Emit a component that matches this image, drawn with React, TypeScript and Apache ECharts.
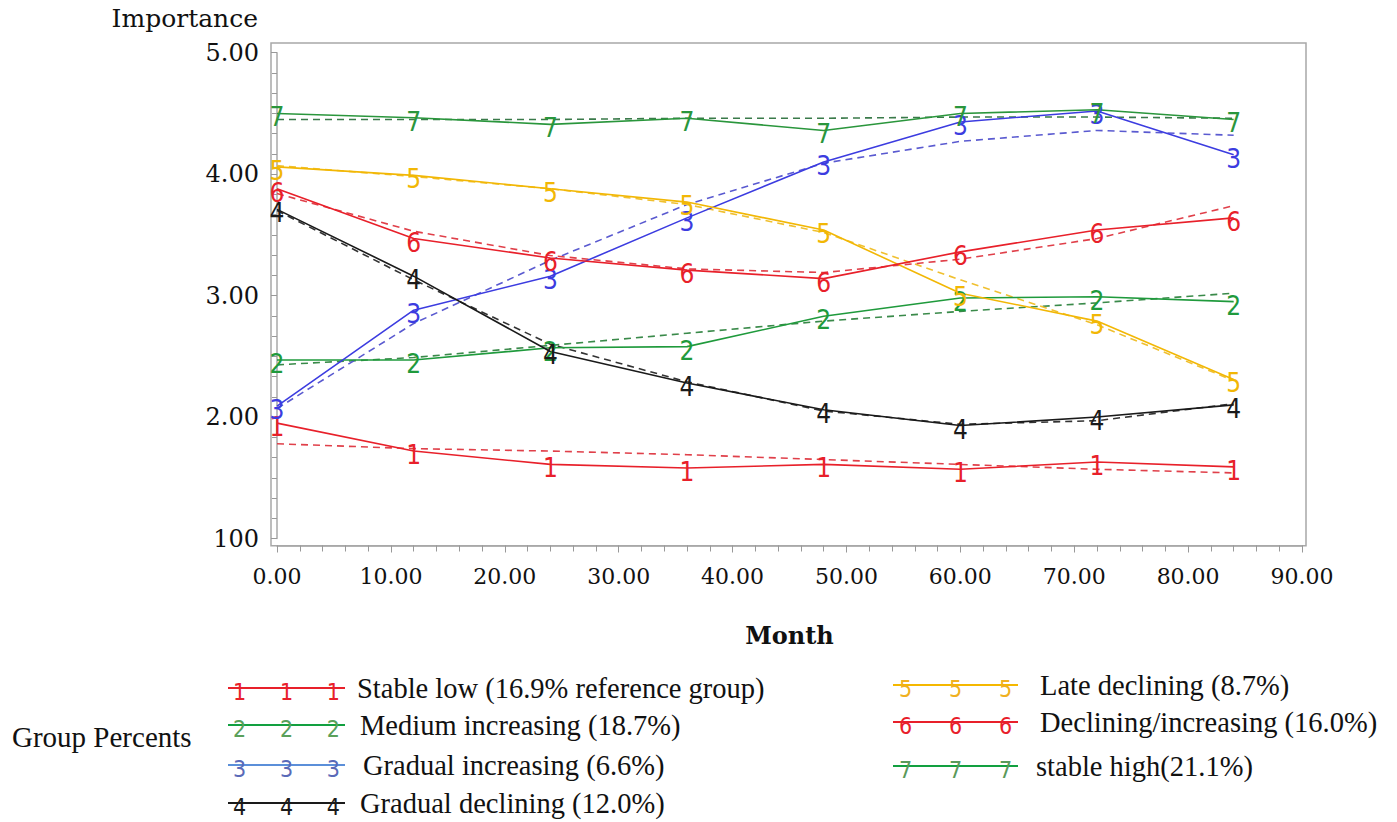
import React, { useEffect, useRef } from "react";
import * as echarts from "echarts";

// ---------- data ----------
const months = [0, 12, 24, 36, 48, 60, 72, 84];

const groupDigits = ["1", "2", "3", "4", "5", "6", "7"];
const groupNames = [
  "Stable low (16.9% reference group)",
  "Medium increasing (18.7%)",
  "Gradual increasing (6.6%)",
  "Gradual declining (12.0%)",
  "Late declining (8.7%)",
  "Declining/increasing (16.0%)",
  "stable high(21.1%)",
];

const obs1 = [1.95, 1.72, 1.61, 1.58, 1.61, 1.57, 1.63, 1.59];
const fit1 = [1.78, 1.74, 1.72, 1.69, 1.65, 1.61, 1.57, 1.54];
const obs2 = [2.47, 2.47, 2.57, 2.58, 2.83, 2.98, 2.99, 2.95];
const fit2 = [2.43, 2.49, 2.59, 2.69, 2.79, 2.87, 2.94, 3.02];
const obs3 = [2.09, 2.88, 3.16, 3.64, 4.1, 4.43, 4.52, 4.16];
const fit3 = [2.07, 2.77, 3.29, 3.75, 4.09, 4.27, 4.36, 4.32];
const obs4 = [3.71, 3.16, 2.54, 2.28, 2.06, 1.93, 2.0, 2.1];
const fit4 = [3.7, 3.13, 2.6, 2.29, 2.05, 1.94, 1.97, 2.11];
const obs5 = [4.06, 3.99, 3.88, 3.77, 3.54, 3.02, 2.79, 2.31];
const fit5 = [4.07, 3.98, 3.88, 3.75, 3.52, 3.13, 2.76, 2.3];
const obs6 = [3.88, 3.47, 3.31, 3.21, 3.14, 3.36, 3.54, 3.64];
const fit6 = [3.84, 3.53, 3.33, 3.22, 3.19, 3.3, 3.47, 3.74];
const obs7 = [4.5, 4.465, 4.41, 4.46, 4.36, 4.5, 4.53, 4.45];
const fit7 = [4.45, 4.45, 4.45, 4.46, 4.46, 4.47, 4.47, 4.46];

const observed = [obs1, obs2, obs3, obs4, obs5, obs6, obs7];
const fitted = [fit1, fit2, fit3, fit4, fit5, fit6, fit7];

const yTickLabels: Record<number, string> = { 1: "100", 2: "2.00", 3: "3.00", 4: "4.00", 5: "5.00" };

// ---------- styles ----------
const lineColors = ["#e8202a", "#1f9a3c", "#3c3ce0", "#1a1a1a", "#f2b705", "#e8202a", "#2a963c"];
const dashColors = ["#e0404a", "#3a8a4a", "#5a5ad0", "#333333", "#f0c030", "#e0404a", "#3a7a4a"];
const legendLineColors = ["#e8202a", "#12a040", "#5b8fd9", "#1a1a1a", "#f5b800", "#e8202a", "#12a040"];
const legendDigitColors = ["#e8202a", "#5aa05a", "#5a6ab8", "#1a1a1a", "#f0b020", "#e8202a", "#5a9a5a"];

const serif = "'DejaVu Serif', serif";
const legendFont = "'Liberation Serif', serif";
const digitFont = "'Liberation Sans Narrow', 'DejaVu Sans Condensed', 'Liberation Sans', sans-serif";

const legendSlots = [
  { x1: 228, x2: 345, tx: 357, y: 688 },
  { x1: 228, x2: 345, tx: 360, y: 725 },
  { x1: 228, x2: 345, tx: 363, y: 765 },
  { x1: 228, x2: 345, tx: 360, y: 803 },
  { x1: 893, x2: 1018, tx: 1040, y: 685 },
  { x1: 893, x2: 1018, tx: 1040, y: 722 },
  { x1: 893, x2: 1018, tx: 1036, y: 766 },
];

export default function App() {
  const ref = useRef<HTMLDivElement>(null);

  useEffect(() => {
    if (!ref.current) return;
    const chart = echarts.init(ref.current, null, { renderer: "svg" });

    const series: any[] = [];
    for (let i = 0; i < 7; i++) {
      series.push({
        type: "line",
        name: groupNames[i] + " fit",
        data: months.map((m, j) => [m, fitted[i][j]]),
        symbol: "none",
        lineStyle: { color: dashColors[i], width: 1.6, type: [7, 5] },
        z: 2,
        silent: true,
      });
    }
    for (let i = 0; i < 7; i++) {
      series.push({
        type: "line",
        name: groupNames[i],
        data: months.map((m, j) => [m, observed[i][j]]),
        symbol: "circle",
        symbolSize: 2,
        showAllSymbol: true,
        itemStyle: { color: "rgba(0,0,0,0)" },
        lineStyle: { color: lineColors[i], width: 1.6 },
        label: {
          show: true,
          position: "inside",
          formatter: () => groupDigits[i],
          color: lineColors[i],
          fontSize: 26,
          fontFamily: digitFont,
          offset: [0, 4],
        },
        z: 3,
        silent: true,
      });
    }

    const graphics: any[] = [
      {
        type: "rect",
        shape: { x: 271, y: 43, width: 1306 - 271, height: 545.7 - 43 },
        style: { fill: "none", stroke: "#a8a8a8", lineWidth: 1.5 },
        z: 0,
        silent: true,
      },
      {
        type: "text",
        x: 258,
        y: 18,
        style: {
          text: "Importance",
          font: `25px ${serif}`,
          fill: "#111",
          textAlign: "right",
          textVerticalAlign: "middle",
        },
      },
      {
        type: "text",
        x: 12,
        y: 737,
        style: {
          text: "Group Percents",
          font: `29px ${legendFont}`,
          fill: "#111",
          textAlign: "left",
          textVerticalAlign: "middle",
        },
      },
    ];

    for (let i = 0; i < 7; i++) {
      const s = legendSlots[i];
      graphics.push({
        type: "line",
        shape: { x1: s.x1, y1: s.y, x2: s.x2, y2: s.y },
        style: { stroke: legendLineColors[i], lineWidth: 2 },
      });
      const span = s.x2 - s.x1;
      [0.1, 0.5, 0.9].forEach((f) => {
        graphics.push({
          type: "text",
          x: s.x1 + span * f,
          y: s.y + 4,
          style: {
            text: groupDigits[i],
            font: `23px ${digitFont}`,
            fill: legendDigitColors[i],
            textAlign: "center",
            textVerticalAlign: "middle",
          },
        });
      });
      graphics.push({
        type: "text",
        x: s.tx,
        y: s.y,
        style: {
          text: groupNames[i],
          font: `28.5px ${legendFont}`,
          fill: "#111",
          textAlign: "left",
          textVerticalAlign: "middle",
        },
      });
    }

    chart.setOption({
      animation: false,
      backgroundColor: "#ffffff",
      grid: { left: 277, right: 95, top: 52.7, bottom: 283.5, containLabel: false },
      xAxis: {
        type: "value",
        min: 0,
        max: 90,
        interval: 10,
        offset: 7,
        name: "Month",
        nameLocation: "middle",
        nameGap: 78,
        nameTextStyle: { fontFamily: serif, fontSize: 24, color: "#111", fontWeight: "bold" },
        axisLine: { show: true, lineStyle: { color: "#a8a8a8", width: 1.5 } },
        axisTick: { show: true, length: 7, lineStyle: { color: "#999" } },
        minorTick: { show: true, splitNumber: 5, length: 6, lineStyle: { color: "#999" } },
        splitLine: { show: false },
        axisLabel: {
          formatter: (v: number) => v.toFixed(2),
          fontFamily: serif,
          fontSize: 22,
          color: "#111",
          margin: 20,
        },
      },
      yAxis: {
        type: "value",
        min: 1,
        max: 5,
        interval: 1,
        offset: 6,
        axisLine: { show: true, lineStyle: { color: "#a8a8a8", width: 1.5 } },
        axisTick: { show: true, length: 6, lineStyle: { color: "#999" } },
        minorTick: { show: true, splitNumber: 6, length: 5, lineStyle: { color: "#999" } },
        splitLine: { show: false },
        axisLabel: {
          formatter: (v: number) => yTickLabels[v] ?? v.toFixed(2),
          fontFamily: serif,
          fontSize: 24,
          color: "#111",
          margin: 12,
        },
      },
      series,
      graphic: graphics,
    });

    return () => chart.dispose();
  }, []);

  return (
    <div
      ref={ref}
      style={{ position: "absolute", left: 0, top: 0, width: 1397, height: 822 }}
    />
  );
}
